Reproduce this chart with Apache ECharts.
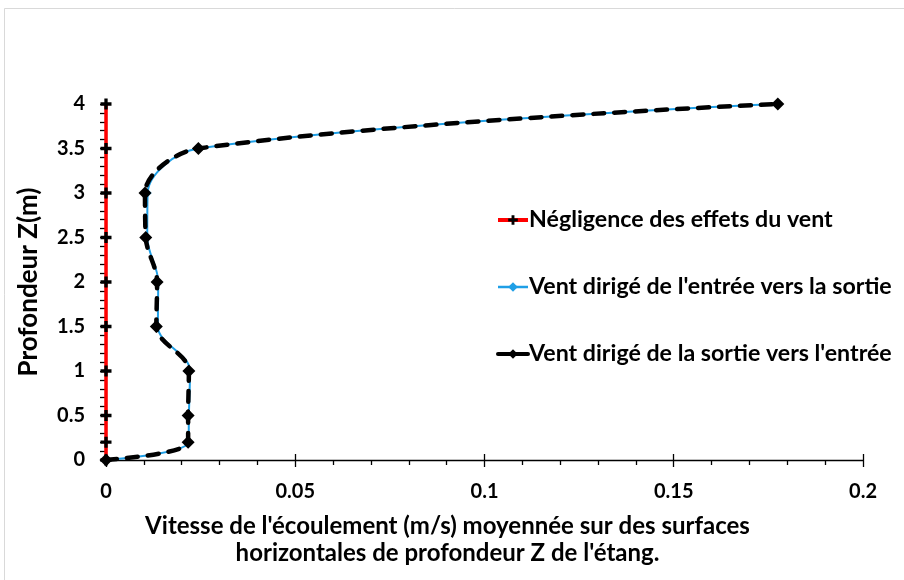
<!DOCTYPE html>
<html>
<head>
<meta charset="utf-8">
<script src="https://cdn.jsdelivr.net/npm/echarts@6/dist/echarts.min.js"></script>
<style>
  html, body { margin: 0; padding: 0; background: #ffffff; }
  #chart { width: 904px; height: 580px; }
</style>
</head>
<body>
<div id="chart"></div>
<script>
// Depths (m) at which the horizontally averaged velocity is sampled
const depths = [0, 0.2, 0.5, 1, 1.5, 2, 2.5, 3, 3.5, 4];

// Mean velocity (m/s) for each scenario
const noWind      = [0, 0, 0, 0, 0, 0, 0, 0, 0, 0];
const windInToOut = [0, 0.0218, 0.0219, 0.0222, 0.0137, 0.0138, 0.0109, 0.0110, 0.0244, 0.1775];
const windOutToIn = [0, 0.0217, 0.0217, 0.0219, 0.0133, 0.0135, 0.0105, 0.0103, 0.0244, 0.1775];

const seriesNames = [
  "Négligence des effets du vent",
  "Vent dirigé de l'entrée vers la sortie",
  "Vent dirigé de la sortie vers l'entrée"
];

const xTicks = { min: 0, max: 0.2, interval: 0.05 };
const yTicks = { min: 0, max: 4, interval: 0.5 };

const xTitle = "Vitesse de l'écoulement (m/s) moyennée sur des surfaces\nhorizontales de profondeur Z de l'étang.";
const yTitle = "Profondeur Z(m)";

const FONT = "Lato, 'Open Sans', sans-serif";

function pairs(xs) { return xs.map((v, i) => [v, depths[i]]); }

const plusPath = 'path://M3.5,0H6.5V3.5H10V6.5H6.5V10H3.5V6.5H0V3.5H3.5Z';

const chart = echarts.init(document.getElementById('chart'), null, { renderer: 'canvas' });

const labelStyle = { fontFamily: FONT, fontWeight: 'bold', fontSize: 20, color: '#000' };

chart.setOption({
  animation: false,
  backgroundColor: '#ffffff',
  graphic: [{
    type: 'rect',
    shape: { x: 4.5, y: 8.5, width: 1200, height: 1200 },
    style: { fill: 'none', stroke: '#d9d9d9', lineWidth: 1 },
    silent: true
  }],
  grid: { left: 106, right: 41, top: 104, bottom: 120, containLabel: false },
  legend: {
    orient: 'vertical',
    left: 491,
    top: 203,
    itemGap: 43,
    itemWidth: 30,
    itemHeight: 12,
    textStyle: { fontFamily: FONT, fontWeight: 'bold', fontSize: 23.2, lineHeight: 24, color: '#000', padding: [0, 0, 0, -4] },
    data: [
      { name: seriesNames[0], lineStyle: { width: 4, color: '#ff0000', type: 'solid' } },
      { name: seriesNames[1], lineStyle: { width: 2.5, color: '#1f9fe6', type: 'solid' } },
      { name: seriesNames[2], lineStyle: { width: 4, color: '#000', type: 'solid' } }
    ]
  },
  xAxis: [{
    type: 'value',
    min: xTicks.min, max: xTicks.max, interval: xTicks.interval,
    splitLine: { show: false },
    axisLine: { lineStyle: { color: '#000', width: 1.3 } },
    axisTick: { show: true, length: 7, lineStyle: { color: '#000', width: 1.3 } },
    minorTick: { show: true, splitNumber: 5, length: 5, lineStyle: { color: '#000', width: 1.3 } },
    axisLabel: Object.assign({ margin: 22, formatter: v => String(+v.toFixed(2)) }, labelStyle),
    name: xTitle,
    nameLocation: 'middle',
    nameGap: 53,
    nameTextStyle: { fontFamily: FONT, fontWeight: 'bold', fontSize: 24, color: '#000', lineHeight: 27, verticalAlign: 'top', padding: [0, 74, 0, 0] }
  }, {
    // upper half of the crossing major ticks
    type: 'value', position: 'bottom',
    min: xTicks.min, max: xTicks.max, interval: xTicks.interval,
    splitLine: { show: false },
    axisLine: { show: false },
    axisTick: { show: true, inside: true, length: 6, lineStyle: { color: '#000', width: 1.3 } },
    axisLabel: { show: false }
  }],
  yAxis: {
    type: 'value',
    min: yTicks.min, max: yTicks.max, interval: yTicks.interval,
    splitLine: { show: false },
    axisLine: { show: true, lineStyle: { color: '#000', width: 1.3 } },
    axisTick: { show: true, length: 6, lineStyle: { color: '#000', width: 1.3 } },
    minorTick: { show: true, splitNumber: 5, length: 6, lineStyle: { color: '#000', width: 1.3 } },
    axisLabel: Object.assign({ margin: 21, formatter: v => String(+v.toFixed(1)) }, labelStyle),
    name: yTitle,
    nameLocation: 'middle',
    nameGap: 64,
    nameRotate: 90,
    nameTextStyle: { fontFamily: FONT, fontWeight: 'bold', fontSize: 26, color: '#000' }
  },
  series: [{
    name: seriesNames[0],
    type: 'line',
    data: pairs(noWind),
    symbol: plusPath,
    symbolSize: 11,
    lineStyle: { color: '#ff0000', width: 3.5 },
    itemStyle: { color: '#000', borderWidth: 0 },
    z: 3
  }, {
    name: seriesNames[1],
    type: 'line',
    data: pairs(windInToOut),
    smooth: 0.35,
    symbol: 'diamond',
    symbolSize: 8,
    lineStyle: { color: '#1f9fe6', width: 2 },
    itemStyle: { color: '#1f9fe6', borderWidth: 0 },
    z: 4
  }, {
    name: seriesNames[2],
    type: 'line',
    data: pairs(windOutToIn),
    smooth: 0.35,
    symbol: 'diamond',
    symbolSize: 13,
    lineStyle: { color: '#000', width: 4.5, type: [11, 10], cap: 'round' },
    itemStyle: { color: '#000', borderWidth: 0 },
    z: 5
  }]
});
</script>
</body>
</html>
